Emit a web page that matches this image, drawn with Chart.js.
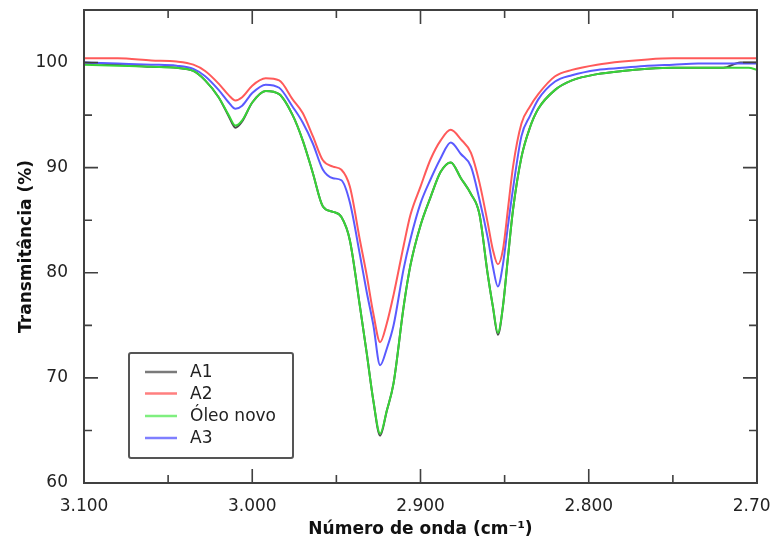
<!DOCTYPE html>
<html><head><meta charset="utf-8">
<script src="https://cdn.jsdelivr.net/npm/chart.js@4.4.1/dist/chart.umd.min.js"></script>
<style>
html,body{margin:0;padding:0;overflow:hidden;background:#fff;width:770px;height:543px}
#wrap{position:absolute;left:0;top:0;width:800px;height:543px}
</style>
</head><body><div id="wrap"><canvas id="c" width="800" height="543"></canvas></div>
<script>
// ---- data ----
const wavenumbers = [3100,3080,3060,3045,3035,3028,3020,3014,3010,3006,3000,2992,2984,2976,2970,2964,2958,2952,2947,2942,2936,2932,2928,2924,2920,2916,2910,2906,2900,2894,2888,2882,2876,2870,2865,2860,2857,2854,2851,2848,2845,2840,2835,2830,2820,2810,2795,2780,2765,2750,2735,2720,2710,2705,2700];
const a1 = [100.0,99.8,99.6,99.5,99.2,98.3,96.7,94.9,93.8,94.4,96.2,97.3,97.0,95.0,92.6,89.5,86.3,85.8,85.3,83.1,76.8,72.4,67.8,64.5,66.9,69.5,76.8,80.7,84.5,87.2,89.6,90.5,89.0,87.5,85.6,79.8,76.8,74.1,76.8,81.5,86.0,91.0,93.8,95.6,97.4,98.3,98.9,99.2,99.4,99.5,99.5,99.5,100.0,100.0,100.0];
const a2 = [100.4,100.4,100.2,100.1,99.8,99.2,98.0,96.9,96.4,96.7,97.8,98.5,98.3,96.5,95.2,93.0,90.7,90.1,89.8,88.2,83.1,79.8,76.1,73.4,75.2,77.9,82.6,85.5,88.2,90.8,92.6,93.6,92.7,91.4,88.6,84.7,82.2,80.8,82.2,86.1,90.1,94.2,95.8,97.0,98.7,99.3,99.8,100.1,100.3,100.4,100.4,100.4,100.4,100.4,100.4];
const oleoNovo = [99.8,99.7,99.6,99.5,99.2,98.3,96.7,95.0,94.0,94.5,96.2,97.3,97.0,95.0,92.6,89.5,86.3,85.8,85.3,83.1,76.8,72.4,67.8,64.7,66.9,69.5,76.8,80.7,84.5,87.2,89.6,90.5,89.0,87.5,85.6,79.8,76.8,74.3,76.8,81.5,86.0,91.0,93.8,95.6,97.4,98.3,98.9,99.2,99.4,99.5,99.5,99.5,99.5,99.5,99.3];
const a3 = [100.0,99.9,99.8,99.7,99.4,98.7,97.4,96.2,95.6,95.9,97.1,97.9,97.6,95.8,94.3,92.3,89.8,89.0,88.8,86.7,81.7,78.2,75.0,71.2,72.8,75.0,80.4,83.2,86.6,88.9,90.9,92.4,91.3,90.1,87.0,83.3,80.6,78.7,80.8,84.5,88.0,93.0,94.9,96.5,98.2,98.8,99.3,99.5,99.7,99.8,99.9,99.9,99.9,99.9,99.9];
const seriesNames = ['A1','A2','Óleo novo','A3'];
const xTickValues = [3100,3000,2900,2800,2700];
const xTickLabels = ['3.100','3.000','2.900','2.800','2.700'];
const yTickValues = [60,70,80,90,100];
const yTickLabels = ['60','70','80','90','100'];
const xTitle = 'Número de onda (cm\u207B\u00B9)';
const yTitle = 'Transmitância (%)';

const toPts = arr => arr.map((v, i) => ({x: wavenumbers[i], y: v}));
const FONT = "'DejaVu Sans',sans-serif";
const lineColors = ['#4a4a4a','#ff5a5a','#38d438','#5a5aff'];
const legendColors = ['#7a7a7a','#ff7f7f','#7fef7f','#7f7fff'];

const framePlugin = {
  id: 'frame',
  afterDatasetsDraw(chart) {
    const {ctx, chartArea: ca, scales: {x, y}} = chart;
    ctx.save();
    ctx.strokeStyle = '#404040';
    ctx.lineWidth = 2;
    ctx.strokeRect(ca.left, ca.top, ca.right - ca.left, ca.bottom - ca.top);
    ctx.lineWidth = 1.6;
    ctx.beginPath();
    for (let v = xTickValues[xTickValues.length - 1]; v <= xTickValues[0]; v += 50) {
      const px = x.getPixelForValue(v);
      const len = v % 100 === 0 ? 14 : 8;
      ctx.moveTo(px, ca.bottom); ctx.lineTo(px, ca.bottom - len);
      ctx.moveTo(px, ca.top); ctx.lineTo(px, ca.top + len);
    }
    for (let v = yTickValues[0]; v <= yTickValues[yTickValues.length - 1]; v += 5) {
      const py = y.getPixelForValue(v);
      const len = v % 10 === 0 ? 14 : 8;
      ctx.moveTo(ca.left, py); ctx.lineTo(ca.left + len, py);
      ctx.moveTo(ca.right, py); ctx.lineTo(ca.right - len, py);
    }
    ctx.stroke();
    ctx.restore();
  },
  afterDraw(chart) {
    const {ctx} = chart;
    const bx = 129, by = 353, bw = 164, bh = 105;
    ctx.save();
    ctx.fillStyle = '#fff';
    ctx.strokeStyle = '#555';
    ctx.lineWidth = 2;
    ctx.beginPath();
    ctx.roundRect(bx, by, bw, bh, 2);
    ctx.fill(); ctx.stroke();
    const rows = [372, 393.5, 416, 438];
    ctx.font = '17px ' + FONT;
    ctx.textBaseline = 'middle';
    ctx.fillStyle = '#222';
    chart.data.datasets.forEach((ds, i) => {
      ctx.strokeStyle = legendColors[i];
      ctx.lineWidth = 2.5;
      ctx.beginPath();
      ctx.moveTo(145, rows[i]); ctx.lineTo(177, rows[i]);
      ctx.stroke();
      ctx.fillText(ds.label, 190, rows[i] + 1);
    });
    ctx.restore();
  }
};

const datasets = [a1, a2, oleoNovo, a3].map((arr, i) => ({
  label: seriesNames[i],
  data: toPts(arr),
  borderColor: lineColors[i],
  backgroundColor: lineColors[i],
  borderWidth: 2,
  pointRadius: 0,
  cubicInterpolationMode: 'monotone',
  order: i === 0 ? 1 : 0
}));

new Chart(document.getElementById('c'), {
  type: 'line',
  data: {datasets},
  options: {
    responsive: false,
    devicePixelRatio: 1,
    animation: false,
    layout: {padding: {top: 10, right: 43, left: 0, bottom: 0}},
    plugins: {legend: {display: false}, tooltip: {enabled: false}},
    scales: {
      x: {
        type: 'linear', reverse: true, min: 2700, max: 3100,
        grid: {display: false, drawTicks: false},
        border: {display: false},
        afterFit: s => { s.height = 60; s.paddingLeft = 0; s.paddingRight = 0; },
        ticks: {
          stepSize: 100, padding: 13, maxRotation: 0, autoSkip: false,
          color: '#222', font: {family: FONT, size: 17},
          callback: v => { const k = xTickValues.indexOf(v); return k >= 0 ? xTickLabels[k] : ''; }
        },
        title: {display: true, text: xTitle, color: '#111', padding: {top: 0, bottom: 3},
                font: {family: FONT, size: 17, weight: 'bold', lineHeight: 1.2}}
      },
      y: {
        type: 'linear', min: 60, max: 105,
        grid: {display: false, drawTicks: false},
        border: {display: false},
        afterFit: s => { s.width = 84; s.paddingTop = 0; s.paddingBottom = 0; },
        ticks: {
          stepSize: 10, padding: 16, includeBounds: false,
          color: '#222', font: {family: FONT, size: 17},
          callback: v => { const k = yTickValues.indexOf(v); return k >= 0 ? yTickLabels[k] : ''; }
        },
        title: {display: true, text: yTitle, color: '#111', padding: {top: 16, bottom: 0},
                font: {family: FONT, size: 17, weight: 'bold', lineHeight: 1.2}}
      }
    }
  },
  plugins: [framePlugin]
});
</script>
</body></html>
